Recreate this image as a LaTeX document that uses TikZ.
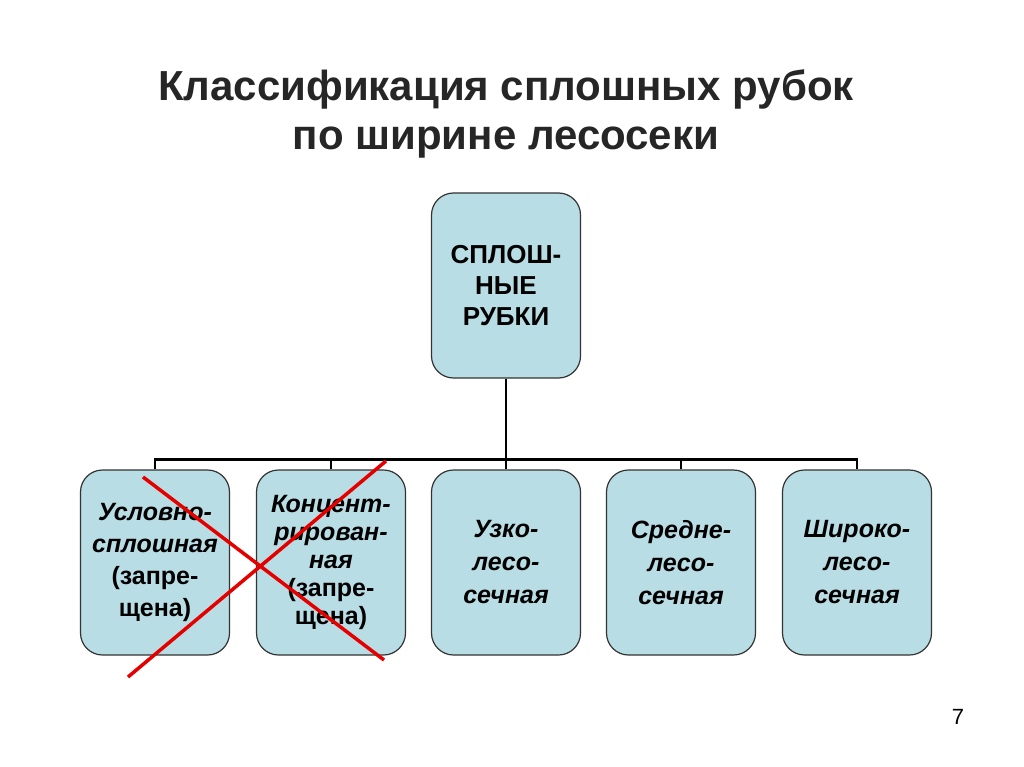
\documentclass[tikz,border=0pt]{standalone}
\usepackage{fontspec}
\setmainfont{Liberation Sans}
\begin{document}
\begin{tikzpicture}[x=1pt,y=-1pt,
  box/.style={draw=black!80,line width=1.2pt,fill=boxblue,rounded corners=22pt,
    minimum width=149pt,align=center,inner sep=0pt},
  topbox/.style={box,minimum height=185pt,font=\fontsize{26}{31}\selectfont\bfseries},
  subbox/.style={box,minimum height=185pt,font=\fontsize{25}{32}\selectfont\bfseries\itshape},
  conn/.style={line width=2.6pt,black},
  cross/.style={line width=3.5pt,red!90!black}]
\definecolor{boxblue}{RGB}{185,221,228}
\useasboundingbox (0,0) rectangle (1024,767);
\fill[white] (0,0) rectangle (1024,767);
\node[font=\fontsize{42}{49}\selectfont\bfseries,align=center,text=black!85] (title) at (506,114)
  {Классификация сплошных рубок\\по ширине лесосеки};
\node[topbox] (top) at (506,285.5) {СПЛОШ-\\НЫЕ\\РУБКИ};
\node[subbox] (b1) at (155,562.5) {Условно-\\сплошная\\{\upshape(запре-}\\{\upshape щена)}};
\node[subbox,font=\fontsize{25}{28}\selectfont\bfseries\itshape] (b2) at (331,562.5) {Концент-\\рирован-\\ная\\{\upshape(запре-}\\{\upshape щена)}};
\node[subbox,font=\fontsize{25}{33}\selectfont\bfseries\itshape] (b3) at (506,562.5) {Узко-\\лесо-\\сечная};
\node[subbox,font=\fontsize{25}{33}\selectfont\bfseries\itshape] (b4) at (681,562.5) {Средне-\\лесо-\\сечная};
\node[subbox,font=\fontsize{25}{33}\selectfont\bfseries\itshape] (b5) at (857,562.5) {Широко-\\лесо-\\сечная};
\coordinate (j) at (506,460);
\draw[conn] (top.south) -- (j);
\draw[conn] (b1.north) -- ++(0,-10) -| (b5.north);
\foreach \n in {b2,b3,b4} \draw[conn] (\n.north) -- ++(0,-10);
\coordinate (c1) at (143,477);
\coordinate (c2) at (384,660);
\coordinate (c3) at (128,677);
\coordinate (c4) at (386,461);
\draw[cross] (c1) -- (c2);
\draw[cross] (c3) -- (c4);
\node[font=\fontsize{22}{26}\selectfont] (pg) at (958,717) {7};
\end{tikzpicture}
\end{document}
